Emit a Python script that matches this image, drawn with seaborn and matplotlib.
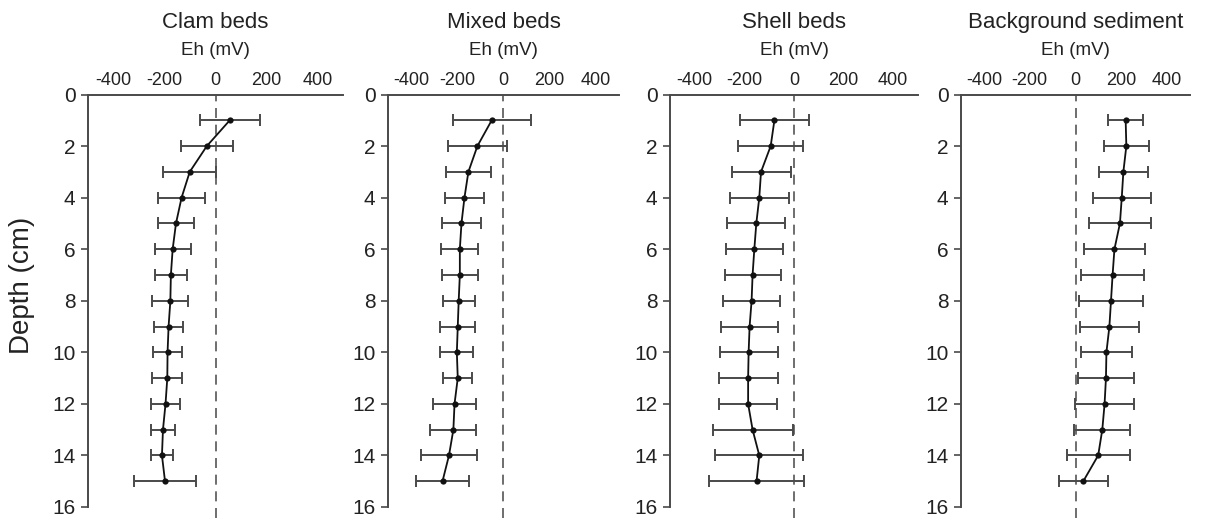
import seaborn as sns
import matplotlib.pyplot as plt

# Độ sâu (cm)
depth = [1, 2, 3, 4, 5, 6, 7, 8, 9, 10, 11, 12, 13, 14, 15]

# Eh trung bình (mV) và sai số cho từng loại nền đáy
clam_eh = [56, -34, -101, -133, -155, -168, -175, -177, -184, -188, -189, -196, -206, -210, -198]
clam_err = [118, 102, 104, 92, 72, 70, 64, 71, 58, 57, 59, 57, 47, 43, 120]

mixed_eh = [-51, -113, -152, -169, -182, -189, -189, -194, -198, -202, -198, -212, -217, -236, -264]
mixed_err = [168, 126, 97, 86, 83, 80, 77, 70, 76, 72, 62, 92, 100, 122, 114]

shell_eh = [-79, -94, -133, -140, -152, -160, -167, -171, -179, -183, -185, -185, -167, -140, -151]
shell_err = [138, 131, 119, 118, 117, 116, 113, 116, 114, 117, 119, 116, 161, 178, 190]

background_eh = [219, 222, 209, 202, 194, 170, 162, 155, 148, 135, 133, 127, 117, 99, 34]
background_err = [77, 99, 107, 126, 135, 135, 136, 138, 129, 113, 124, 129, 123, 137, 108]

titles = ['Clam beds', 'Mixed beds', 'Shell beds', 'Background sediment']
x_ticks = [-400, -200, 0, 200, 400]
y_ticks = [0, 2, 4, 6, 8, 10, 12, 14, 16]

series = [(clam_eh, clam_err), (mixed_eh, mixed_err),
          (shell_eh, shell_err), (background_eh, background_err)]

# Thiết lập style
sns.set_style("ticks")
plt.rcParams['font.family'] = ['Liberation Sans', 'DejaVu Sans']

W, H = 1212, 520
fig = plt.figure(figsize=(W / 100, H / 100), dpi=100)

# Vị trí các panel (pixel): trái, rộng
panel_px = [(88, 255), (388, 231), (670, 248), (961, 229)]
top_px, bottom_px = 94.5, 507

grey = '#4a4a4a'

for (left, width), title, (eh, err) in zip(panel_px, titles, series):
    ax = fig.add_axes([left / W, 1 - bottom_px / H, width / W, (bottom_px - top_px) / H])

    # Đường 0 mV
    ax.axvline(0, ymin=-0.027, ymax=1, color='#555555', lw=1.2,
               dashes=(6, 4), clip_on=False, zorder=1)

    # Thanh sai số
    ax.errorbar(eh, depth, xerr=err, fmt='none', ecolor=grey,
                elinewidth=1.4, capsize=4.5, capthick=1.4, zorder=2)

    # Đường + điểm
    sns.lineplot(x=eh, y=depth, orient='y', sort=True, errorbar=None, ax=ax,
                 color='#111111', lw=1.3, marker='o', markersize=4.5,
                 markeredgecolor='#111111', markeredgewidth=0, zorder=3)

    ax.set_xlim(-500, 500)
    ax.set_ylim(16, 0)
    ax.set_xticks(x_ticks)
    ax.set_yticks(y_ticks)
    ax.set_xticklabels([str(t) for t in x_ticks])
    ax.xaxis.set_ticks_position('top')
    ax.xaxis.set_label_position('top')
    ax.tick_params(axis='x', length=0, pad=4, labelsize=13, labelcolor='#222222')
    ax.tick_params(axis='y', direction='out', length=5, width=1.2, color=grey,
                   pad=4, labelsize=15, labelcolor='#222222')

    ax.set_xlabel('Eh (mV)', fontsize=13.5, labelpad=12, color='#222222')
    ax.set_ylabel('')
    ax.set_title(title, fontsize=16, pad=10, color='#222222')

    for side in ['right', 'bottom']:
        ax.spines[side].set_visible(False)
    for side in ['left', 'top']:
        ax.spines[side].set_color(grey)
        ax.spines[side].set_linewidth(1.4)
    ax.grid(False)

fig.text(22 / W, 1 - 285 / H, 'Depth (cm)', rotation=90, fontsize=20,
         ha='center', va='center', color='#222222')

plt.savefig('out.png', dpi=100)
